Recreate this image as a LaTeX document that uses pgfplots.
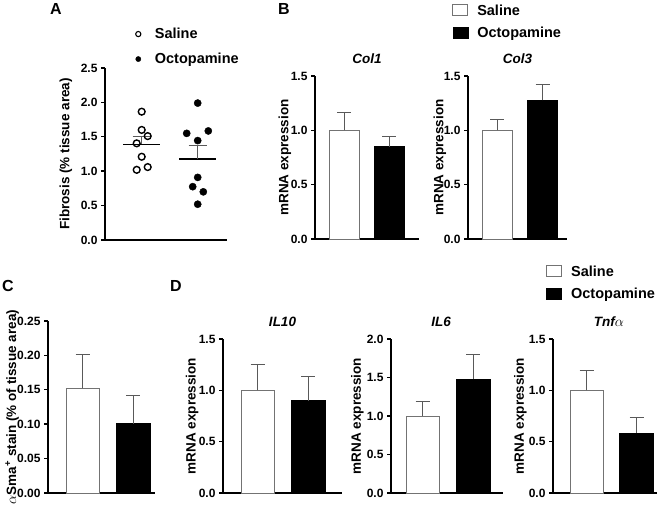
\documentclass[border=0pt]{standalone}
\usepackage{fontspec}
\setmainfont{Liberation Sans}
\usepackage{pgfplots}
\pgfplotsset{compat=1.18}
\definecolor{errgray}{gray}{0.35}
\definecolor{outgray}{gray}{0.45}
\pgfplotsset{
  gp/.style={
    scale only axis,
    axis x line*=bottom, axis y line*=left,
    axis line style={line width=1.6pt, -},
    xtick=\empty,
    ytick pos=left,
    tick align=outside,
    major tick length=4pt,
    every tick/.style={line width=1.4pt, black},
    /pgf/number format/assume math mode=true,
    tick label style={font=\bfseries\fontsize{12}{13}\selectfont},
    yticklabel style={/pgf/number format/.cd, fixed, fixed zerofill, precision=1},
    ylabel style={font=\bfseries\fontsize{13.5}{14}\selectfont, anchor=center, rotate=0},
    title style={font=\bfseries\itshape\fontsize{13.5}{14}\selectfont, at={(axis description cs:0.5,1)}, anchor=center, yshift=11pt},
    clip=false,
    ymin=0,
  },
  wbar/.style={ybar, bar shift=0pt, fill=white, draw=outgray, line width=0.9pt,
    error bars/y dir=plus, error bars/y explicit,
    error bars/error bar style={line width=1pt, errgray},
    error bars/error mark options={rotate=90, mark size=7pt, line width=1pt, errgray}},
  kbar/.style={ybar, bar shift=0pt, fill=black, draw=black, line width=0.9pt,
    error bars/y dir=plus, error bars/y explicit,
    error bars/error bar style={line width=1pt, errgray},
    error bars/error mark options={rotate=90, mark size=7pt, line width=1pt, errgray}},
  sqleg/.style={legend image code/.code={\draw[##1] (0pt,-5pt) rectangle (15pt,6pt);}},
  barlegend/.style={legend style={draw=none, fill=none, inner sep=0pt, font=\bfseries\fontsize{14.5}{16}\selectfont, row sep=6pt, cells={anchor=west}}, legend cell align=left},
  meanerr/.style={forget plot, errgray, no marks, error bars/y dir=plus, error bars/y explicit,
    error bars/error bar style={line width=1.3pt, errgray},
    error bars/error mark options={rotate=90, mark size=9pt, line width=1.3pt, errgray}},
}
\begin{document}
\begin{tikzpicture}
\useasboundingbox (0,0) rectangle (658pt,508pt);
% Panel letters
\node[font=\bfseries\fontsize{16}{18}\selectfont] at (56pt,499pt) {A};
\node[font=\bfseries\fontsize{16}{18}\selectfont] at (284pt,499pt) {B};
\node[font=\bfseries\fontsize{16}{18}\selectfont] at (8pt,222pt) {C};
\node[font=\bfseries\fontsize{16}{18}\selectfont] at (176pt,222pt) {D};

% Panel A
\begin{axis}[gp, at={(105pt,268pt)}, anchor=south west, width=122pt, height=172pt,
  xmin=0, xmax=122, ymax=2.5, ytick={0,0.5,1,1.5,2,2.5},
  ylabel={Fibrosis (\% tissue area)}, ylabel style={at={(axis description cs:-0.32,0.5)}},
  legend style={draw=none, fill=none, inner sep=0pt, font=\bfseries\fontsize{14.5}{16}\selectfont, row sep=9pt, at={(axis description cs:0.25,1.245)}, anchor=north west, cells={anchor=west}},
  legend cell align=left]
\addlegendimage{only marks, mark=o, mark size=2.6pt, mark options={line width=1.1pt}}
\addlegendentry{\hspace{12pt}Saline}
\addlegendimage{only marks, mark=*, mark size=2.6pt}
\addlegendentry{\hspace{12pt}Octopamine}
\addplot[forget plot, black, no marks, line width=1.6pt] coordinates {(18,1.39) (55,1.39)};
\addplot[forget plot, black, no marks, line width=1.6pt] coordinates {(74,1.18) (111,1.18)};
\addplot[meanerr] coordinates {(36.7,1.39) +- (0,0.11)};
\addplot[meanerr] coordinates {(92.7,1.18) +- (0,0.19)};
\addplot[forget plot, only marks, mark=o, mark size=3.4pt, mark options={line width=1.4pt, fill=white}]
  coordinates {(36.7,1.865) (36.7,1.60) (42.7,1.51) (31.7,1.405) (36.7,1.21) (31.7,1.02) (42.7,1.06)};
\addplot[forget plot, only marks, mark=*, mark size=3.6pt]
  coordinates {(92.7,1.99) (81.7,1.55) (103.3,1.585) (92.7,1.445) (92.7,0.91) (87.7,0.775) (98.3,0.70) (92.7,0.52)};
\end{axis}

% Panel B Col1
\begin{axis}[gp, at={(315pt,269pt)}, anchor=south west, width=104pt, height=163pt,
  xmin=0, xmax=104, ymax=1.5, ytick={0,0.5,1,1.5},
  title={Col1}, ylabel={mRNA expression}, ylabel style={at={(axis description cs:-0.29,0.5)}}]
\addplot[wbar, bar width=30pt] coordinates {(29,1.0) +- (0,0.163)};
\addplot[kbar, bar width=30pt] coordinates {(74,0.85) +- (0,0.092)};
\end{axis}

% Panel B Col3
\begin{axis}[gp, at={(468pt,269pt)}, anchor=south west, width=99pt, height=163pt,
  xmin=0, xmax=99, ymax=1.5, ytick={0,0.5,1,1.5},
  title={Col3}, ylabel={mRNA expression}, ylabel style={at={(axis description cs:-0.283,0.5)}},
  barlegend, legend style={at={(axis description cs:-0.16,1.45)}, anchor=north west}]
\addlegendimage{sqleg, fill=white, draw=outgray, line width=0.9pt}
\addlegendentry{\hspace{7pt}Saline}
\addlegendimage{sqleg, fill=black, draw=black}
\addlegendentry{\hspace{7pt}Octopamine}
\addplot[forget plot, wbar, bar width=30pt] coordinates {(29,1.0) +- (0,0.10)};
\addplot[forget plot, kbar, bar width=30pt] coordinates {(74.5,1.275) +- (0,0.145)};
\end{axis}

% Panel C
\begin{axis}[gp, at={(48pt,15pt)}, anchor=south west, width=107pt, height=172pt,
  xmin=0, xmax=107, ymax=0.25, ytick={0,0.05,0.1,0.15,0.2,0.25},
  yticklabel style={/pgf/number format/.cd, fixed, fixed zerofill, precision=2},
  ylabel={$\alpha$Sma\textsuperscript{+} stain (\% of tissue area)}, ylabel style={at={(axis description cs:-0.336,0.5)}}]
\addplot[wbar, bar width=33pt] coordinates {(34.5,0.152) +- (0,0.049)};
\addplot[kbar, bar width=34pt] coordinates {(85,0.101) +- (0,0.041)};
\end{axis}

% Panel D IL10
\begin{axis}[gp, at={(223pt,15pt)}, anchor=south west, width=119pt, height=154pt,
  xmin=0, xmax=119, ymax=1.5, ytick={0,0.5,1,1.5},
  title={IL10}, ylabel={mRNA expression}, ylabel style={at={(axis description cs:-0.26,0.5)}}]
\addplot[wbar, bar width=33pt] coordinates {(34.5,1.0) +- (0,0.25)};
\addplot[kbar, bar width=34pt] coordinates {(85,0.90) +- (0,0.235)};
\end{axis}

% Panel D IL6
\begin{axis}[gp, at={(391pt,15pt)}, anchor=south west, width=112pt, height=154pt,
  xmin=0, xmax=112, ymax=2.0, ytick={0,0.5,1,1.5,2},
  title={IL6}, title style={xshift=-6pt}, ylabel={mRNA expression}, ylabel style={at={(axis description cs:-0.30,0.5)}}]
\addplot[wbar, bar width=33pt] coordinates {(31.5,1.0) +- (0,0.19)};
\addplot[kbar, bar width=34pt] coordinates {(82,1.48) +- (0,0.32)};
\end{axis}

% Panel D Tnfa
\begin{axis}[gp, at={(553pt,15pt)}, anchor=south west, width=104pt, height=154pt,
  xmin=0, xmax=104, ymax=1.5, ytick={0,0.5,1,1.5},
  title={Tnf\upshape\mdseries$\alpha$}, title style={xshift=4pt}, ylabel={mRNA expression}, ylabel style={at={(axis description cs:-0.314,0.5)}},
  barlegend, legend style={at={(axis description cs:-0.067,1.49)}, anchor=north west}]
\addlegendimage{sqleg, fill=white, draw=outgray, line width=0.9pt}
\addlegendentry{\hspace{7pt}Saline}
\addlegendimage{sqleg, fill=black, draw=black}
\addlegendentry{\hspace{7pt}Octopamine}
\addplot[forget plot, wbar, bar width=33pt] coordinates {(33.5,1.0) +- (0,0.19)};
\addplot[forget plot, kbar, bar width=34pt] coordinates {(83.5,0.583) +- (0,0.156)};
\end{axis}
\end{tikzpicture}
\end{document}
